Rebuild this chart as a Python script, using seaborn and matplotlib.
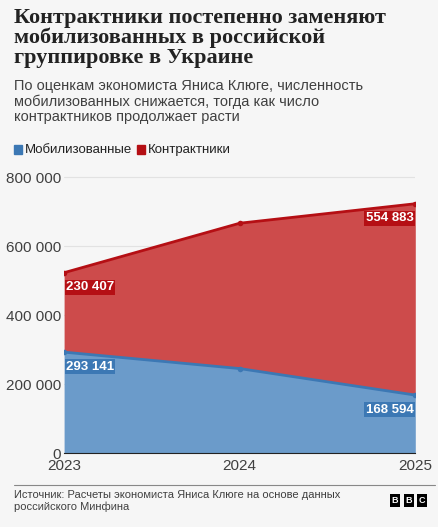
import matplotlib
matplotlib.use("Agg")
import matplotlib.pyplot as plt
import seaborn as sns
import pandas as pd

years = [2023, 2024, 2025]
mobilized = [293141, 245500, 168594]
contractors = [230407, 421500, 554883]
yticks = [0, 200000, 400000, 600000, 800000]

df = pd.DataFrame({"year": years, "mob": mobilized, "con": contractors})
df["total"] = df["mob"] + df["con"]

sns.set_style("white")
plt.rcParams["font.family"] = ["Liberation Sans", "DejaVu Sans"]

BG = "#f6f6f6"
BLUE_FILL, BLUE_LINE = "#6b9bca", "#3c78b4"
RED_FILL, RED_LINE = "#cd4b4b", "#b50f14"

fig = plt.figure(figsize=(4.39, 5.27), dpi=100, facecolor=BG)
ax = fig.add_axes([0.146, 0.14, 0.80, 0.53], facecolor=BG)

ax.fill_between(df["year"], 0, df["mob"], color=BLUE_FILL, lw=0)
ax.fill_between(df["year"], df["mob"], df["total"], color=RED_FILL, lw=0)
sns.lineplot(x="year", y="mob", data=df, ax=ax, color=BLUE_LINE, lw=2,
             marker="o", markersize=4, markeredgewidth=0)
sns.lineplot(x="year", y="total", data=df, ax=ax, color=RED_LINE, lw=2,
             marker="o", markersize=4, markeredgewidth=0)

def lab(x, y, txt, fc, ha):
    ax.text(x, y, txt, ha=ha, va="top", fontsize=9.5, fontweight="bold",
            color="white", bbox=dict(boxstyle="square,pad=0.1", fc=fc, ec="none"))

lab(2023.01, df["total"][0] - 25000, "230 407", RED_LINE, "left")
lab(2024.99, df["total"][2] - 25000, "554 883", RED_LINE, "right")
lab(2023.01, df["mob"][0] - 25000, "293 141", BLUE_LINE, "left")
lab(2024.99, df["mob"][2] - 25000, "168 594", BLUE_LINE, "right")

ax.set_xlim(2023, 2025)
ax.set_ylim(0, 810000)
ax.set_yticks(yticks)
ax.set_yticklabels(["0", "200 000", "400 000", "600 000", "800 000"])
ax.set_xticks(years)
ax.set_xticklabels([str(y) for y in years])
ax.yaxis.grid(True, color="#e2e2e2", lw=0.8)
ax.set_axisbelow(True)
for s in ["top", "right", "left"]:
    ax.spines[s].set_visible(False)
ax.spines["bottom"].set_color("#222222")
ax.tick_params(axis="y", length=0, labelsize=11, colors="#404040", pad=2)
ax.tick_params(axis="x", length=4, labelsize=11, colors="#404040", pad=0)
ax.set_xlabel("")
ax.set_ylabel("")

fig.text(0.032, 0.985, "Контрактники постепенно заменяют\nмобилизованных в российской\nгруппировке в Украине",
         ha="left", va="top", fontsize=16, fontweight="bold", color="#222222",
         family=["Liberation Serif", "DejaVu Serif"], linespacing=1.0)
fig.text(0.032, 0.85, "По оценкам экономиста Яниса Клюге, численность\nмобилизованных снижается, тогда как число\nконтрактников продолжает расти",
         ha="left", va="top", fontsize=10.5, color="#404040", linespacing=1.1)

fig.patches.append(plt.Rectangle((0.032, 0.707), 0.018, 0.017, color=BLUE_LINE, transform=fig.transFigure))
fig.text(0.056, 0.715, "Мобилизованные", fontsize=9.5, va="center", color="#222222")
fig.patches.append(plt.Rectangle((0.312, 0.707), 0.018, 0.017, color=RED_LINE, transform=fig.transFigure))
fig.text(0.336, 0.715, "Контрактники", fontsize=9.5, va="center", color="#222222")

fig.add_artist(plt.Line2D([0.032, 0.99], [0.08, 0.08], color="#888888", lw=0.8))
fig.text(0.032, 0.07, "Источник: Расчеты экономиста Яниса Клюге на основе данных\nроссийского Минфина",
         fontsize=8, va="top", color="#404040", linespacing=1.2)
for i, ch in enumerate("BBC"):
    fig.text(0.9 + i * 0.031, 0.05, ch, fontsize=6.5, fontweight="bold", color="white",
             ha="center", va="center",
             bbox=dict(boxstyle="square,pad=0.2", fc="black", ec="none"))

fig.savefig("out.png", dpi=100, facecolor=BG)
